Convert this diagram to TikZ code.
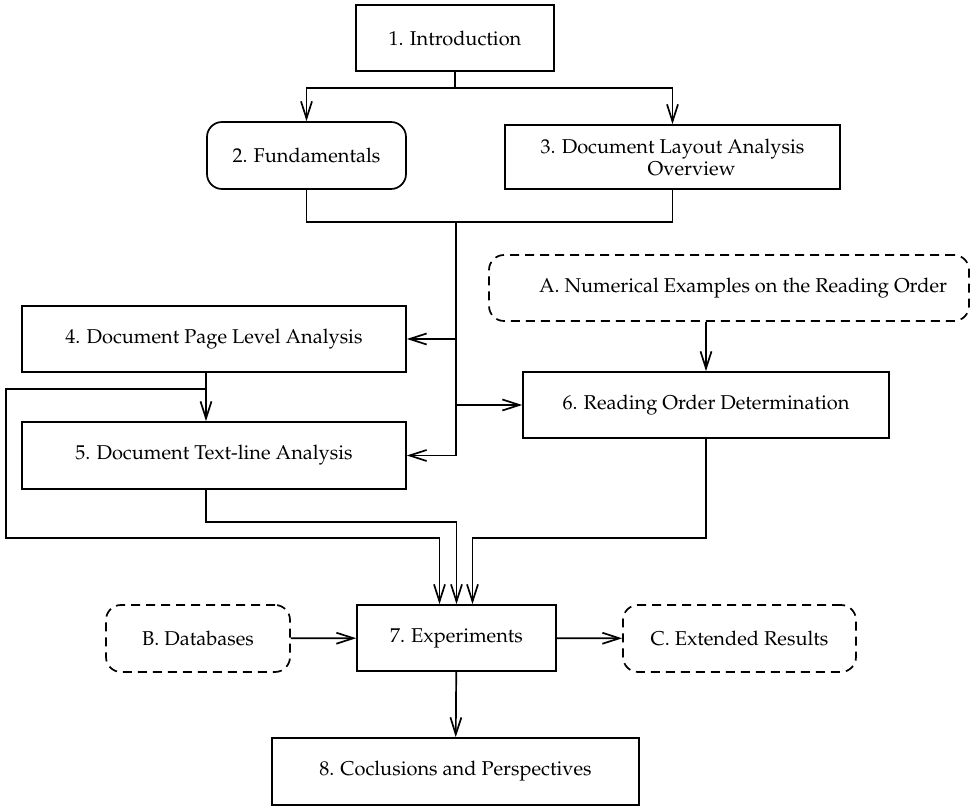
\documentclass[tikz,border=0pt]{standalone}
\usepackage[T1]{fontenc}
\usepackage{mathpazo}
\usetikzlibrary{arrows.meta}
\begin{document}
\begin{tikzpicture}[x=0.5pt,y=-0.5pt,
  line width=0.85pt,
  font=\fontsize{10}{11}\selectfont,
  box/.style={draw,rectangle,inner sep=0pt,align=center},
  rbox/.style={box,rounded corners=7.5pt},
  dbox/.style={box,rounded corners=7.5pt,dash pattern=on 4.5pt off 3pt},
  conn/.style={-{Straight Barb[length=8.5pt,width=5.5pt]}}]
\useasboundingbox (0,0) rectangle (971,807);

% chapters and appendices
\node[box,minimum width=99pt,minimum height=33pt] (n1) at (455,38) {1. Introduction};
\node[rbox,minimum width=99.5pt,minimum height=33.5pt] (n2) at (306.5,155.5) {2. Fundamentals};
\node[box,minimum width=167.5pt,minimum height=32pt] (n3) at (672.5,157)
  {3. Document Layout Analysis\\\hspace*{19pt}Overview};
\node[dbox,minimum width=240pt,minimum height=33pt] (nA) at (729,288)
  {\hspace*{14pt}A. Numerical Examples on the Reading Order};
\node[box,minimum width=192pt,minimum height=33pt] (n4) at (214,339) {4. Document Page Level Analysis};
\node[box,minimum width=192pt,minimum height=33.5pt] (n5) at (214,455.5) {5. Document Text-line Analysis};
\node[box,minimum width=183pt,minimum height=33pt] (n6) at (706,405) {6. Reading Order Determination};
\node[dbox,minimum width=92pt,minimum height=33.5pt] (nB) at (198,638.5) {B. Databases};
\node[box,minimum width=99.5pt,minimum height=33pt] (n7) at (456.5,638) {7. Experiments};
\node[dbox,minimum width=116.5pt,minimum height=33.5pt] (nC) at (739.5,638.5) {C. Extended Results};
\node[box,minimum width=183.5pt,minimum height=33.5pt] (n8) at (455.5,771.5) {8. Coclusions and Perspectives};

% junction points of the routed connectors
\coordinate (j1) at (455,88);
\coordinate (j2) at (456,222);
\coordinate (l1) at (6,389);
\coordinate (l2) at (6,538);
\coordinate (k5) at (206,522);
\coordinate (k6) at (706,538);

% connectors
\draw[conn] (n1.south) -- (j1) -| (n2.north);
\draw[conn] (j1) -| (n3.north);
\draw (n2.south) |- (j2) -| (n3.south);
\draw[conn] (j2) |- (n4.east);
\draw[conn] (j2) |- (n6.west);
\draw[conn] (j2) |- (n5.east);
\draw[conn] (n6.north |- nA.south) -- (n6.north);
\draw[conn] ([xshift=-4pt]n4.south) -- ([xshift=-4pt]n5.north);
\draw[conn] ([xshift=-4pt]n4.south) |- (l1) -- (l2) -| ([xshift=-8.5pt]n7.north);
\draw[conn] ([xshift=-4pt]n5.south) -- (k5) -| (n7.north);
\draw[conn] (n6.south) -- (k6) -| ([xshift=8pt]n7.north);
\draw[conn] (nB) -- (n7);
\draw[conn] (n7) -- (nC);
\draw[conn] (n7) -- (n8);
\end{tikzpicture}
\end{document}
